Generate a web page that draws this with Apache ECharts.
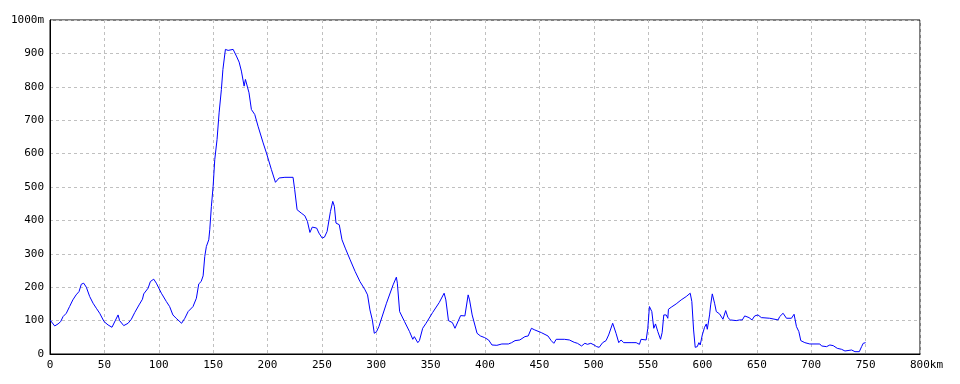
<!DOCTYPE html>
<html>
<head>
<meta charset="utf-8">
<script src="https://cdn.jsdelivr.net/npm/echarts@6/dist/echarts.min.js"></script>
<style>
html,body{margin:0;padding:0;background:#fff;}
#chart{width:960px;height:384px;}
</style>
</head>
<body>
<div id="chart"></div>
<script>
// Distance along route (km)
var distanceKm = [
0,4.3,7.4,9.8,12,15,18,21,24,26.7,28.8,31,33.4,36.5,39.6,42.6,45.7,49.7,53.4,57,
62.6,64,67.8,71.8,74.8,77.9,81.9,85,86.2,90.2,92.3,95.4,97.8,102.4,107,110,113,116,121,124,
127,131.5,134.6,136.8,139,140.8,142.3,143.8,146,146.9,148.4,150,151.5,153.6,155.5,157.6,159,161.3,163.8,165.3,
168.4,171.4,173.9,176,178.5,179.7,181.2,183,185.2,188.3,191.3,196,199,203.6,207.3,209,210.7,216,223.5,225,
227.2,231,234.3,236.7,239,241.2,245.2,247.3,250.3,252.4,254.8,257.9,260,261.5,263,266,268.5,271.5,276,280.6,
285,289.7,292,294.2,296.4,298.2,300.3,302.4,309.4,315.5,318.5,319.4,321.5,326,330.6,333.6,335,338.2,339.7,342.7,
345.8,351.8,357.9,362.4,364,366.4,370,372.4,374,377.6,379,381.5,384.5,385.8,388.2,392.7,395.8,399.7,403.3,406.4,
410.9,415.5,421.5,424.5,427.6,432,436.7,439.7,442.7,445.8,451.8,457.9,460.9,463.3,465.5,473,477.6,482,485,488.8,
491.8,494.2,497.3,500.3,502.7,505,508.2,511.3,513.7,517.4,520.5,523,525.1,527.6,534.3,539,542,543.5,548.2,549.7,
551.2,553.4,555.2,556.8,558.9,561.4,562.9,564.4,566.6,568.1,568.7,571.2,575.8,580.4,585,588.7,590.2,591.8,593.3,595.2,
596.7,597.9,599.8,601.9,603.5,604.4,606.5,607.5,609,611.1,612.7,615.7,618.8,621.3,623.4,625.6,631.1,634.2,636.6,638.8,
642.8,645.5,648,651,654.1,661.8,669.5,671,674.1,677.2,681.8,684.2,686.4,688.6,690.4,694.1,698.7,707.9,709.5,714.1,
717.1,720.2,723.9,727.9,731,732.5,737.1,740.2,744.2,746.3,747.8,750
];
// Elevation (m)
var elevationM = [
102,84,90,97,112,122,142,162,177,187,209,212,200,172,152,137,122,97,87,80,
117,100,85,92,104,124,147,164,180,197,217,224,212,182,157,142,117,107,92,107,
127,142,167,210,217,234,292,322,342,372,442,502,582,642,722,792,852,912,909,914,
912,892,874,847,802,822,824,782,732,717,682,632,602,552,514,512,527,529,529,492,
432,422,414,397,364,380,377,362,347,350,367,427,457,442,392,387,342,317,282,247,
217,192,177,132,102,62,67,82,152,207,230,212,127,97,67,44,52,34,40,77,
92,124,154,182,162,100,94,77,82,115,112,114,177,162,117,62,54,49,42,27,
26,30,30,34,40,42,52,54,77,72,64,54,40,32,44,44,42,35,32,24,
32,29,32,27,22,20,34,40,57,92,62,34,42,34,34,34,29,44,42,77,
142,127,77,90,67,44,64,117,117,107,134,140,150,162,172,182,157,72,20,22,
34,27,57,80,90,74,117,147,180,152,127,120,104,130,109,102,100,102,102,114,
109,102,114,117,109,107,102,112,122,107,107,119,82,67,40,34,30,30,24,22,
27,25,17,14,9,12,12,7,7,22,32,34
];
// Axis ticks
var xTicks = {min: 0, max: 800, step: 50, unit: 'km'};
var yTicks = {min: 0, max: 1000, step: 100, unit: 'm'};

var seriesData = distanceKm.map(function (d, i) { return [d, elevationM[i]]; });

var FONT = "'DejaVu Sans Mono','Liberation Mono',monospace";
var chart = echarts.init(document.getElementById('chart'), null, {renderer: 'canvas'});
chart.setOption({
  animation: false,
  backgroundColor: '#ffffff',
  grid: {
    left: 50, right: 40, top: 20, bottom: 30,
    show: true, borderColor: '#000', borderWidth: 1, backgroundColor: 'transparent',
    containLabel: false, outerBoundsMode: 'none'
  },
  xAxis: {
    type: 'value',
    min: xTicks.min, max: xTicks.max, interval: xTicks.step,
    axisLine: {show: true, onZero: false, lineStyle: {color: '#000', width: 1}},
    axisTick: {show: false},
    splitLine: {show: true, lineStyle: {color: '#c0c0c0', width: 1, type: [3, 3]}},
    axisLabel: {
      color: '#000', fontSize: 11, fontFamily: FONT, margin: 6,
      formatter: function (v) { return v === xTicks.max ? '{u|' + v + xTicks.unit + '}' : String(v); },
      rich: {u: {color: '#000', fontSize: 11, fontFamily: FONT, padding: [0, 0, 0, 13]}}
    }
  },
  yAxis: {
    type: 'value',
    min: yTicks.min, max: yTicks.max, interval: yTicks.step,
    axisLine: {show: true, lineStyle: {color: '#000', width: 1}},
    axisTick: {show: false},
    splitLine: {show: true, lineStyle: {color: '#c0c0c0', width: 1, type: [3, 3]}},
    axisLabel: {
      color: '#000', fontSize: 11, fontFamily: FONT, margin: 6,
      formatter: function (v) { return v === yTicks.max ? v + yTicks.unit : String(v); }
    }
  },
  series: [{
    type: 'line',
    data: seriesData,
    showSymbol: false,
    symbol: 'none',
    lineStyle: {color: '#0000ff', width: 1},
    silent: true
  }]
});
</script>
</body>
</html>
